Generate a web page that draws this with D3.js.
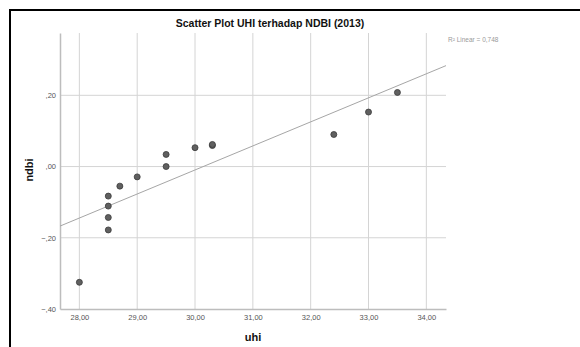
<!DOCTYPE html>
<html>
<head>
<meta charset="utf-8">
<script src="https://cdn.jsdelivr.net/npm/d3@7"></script>
<style>
  body { margin: 0; background: #fff; }
  svg { display: block; font-family: "Liberation Sans", Arial, sans-serif; }
</style>
</head>
<body>
<div id="chart"></div>
<script>
// uhi (x) and ndbi (y) values
const uhi  = [28.00, 28.50, 28.50, 28.50, 28.50, 28.70, 29.00, 29.50, 29.50, 30.00, 30.30, 30.30, 32.40, 33.00, 33.50];
const ndbi = [-0.325, -0.083, -0.111, -0.143, -0.178, -0.055, -0.029, 0.034, 0.000, 0.053, 0.059, 0.062, 0.090, 0.153, 0.208];

const xTicks = [28, 29, 30, 31, 32, 33, 34];
const yTicks = [-0.4, -0.2, 0, 0.2];
const title = "Scatter Plot UHI terhadap NDBI (2013)";
const r2Label = "R\u00B2 Linear = 0,748";

const W = 580, H = 347;
const plot = { left: 60, right: 446, top: 33, bottom: 309 };

const svg = d3.select("#chart").append("svg")
    .attr("width", W)
    .attr("height", H);

// outer frame (runs off the right and bottom edge)
svg.append("rect")
    .attr("x", 10).attr("y", 10)
    .attr("width", W + 20).attr("height", H + 20)
    .attr("fill", "none")
    .attr("stroke", "#000")
    .attr("stroke-width", 2);

const x = d3.scaleLinear()
    .domain([27.665, 34.34])
    .range([plot.left, plot.right]);

const y = d3.scaleLinear()
    .domain([-0.4, 0.375])
    .range([plot.bottom, plot.top]);

const fmtX = d => d3.format(".2f")(d).replace(".", ",");
const fmtY = d => d3.format(".2f")(d).replace("0.", ".").replace(".", ",");

// gridlines
svg.append("g")
    .selectAll("line")
    .data(xTicks)
    .join("line")
    .attr("x1", d => x(d)).attr("x2", d => x(d))
    .attr("y1", plot.top).attr("y2", plot.bottom)
    .attr("stroke", "#d4d4d4")
    .attr("stroke-width", 1);

svg.append("g")
    .selectAll("line")
    .data(yTicks.filter(d => d > -0.4))
    .join("line")
    .attr("x1", plot.left).attr("x2", plot.right)
    .attr("y1", d => y(d)).attr("y2", d => y(d))
    .attr("stroke", "#d4d4d4")
    .attr("stroke-width", 1);

// axes
const xAxis = svg.append("g")
    .attr("transform", `translate(0,${plot.bottom})`)
    .call(d3.axisBottom(x).tickValues(xTicks).tickFormat(fmtX).tickSize(0).tickPadding(6));
const yAxis = svg.append("g")
    .attr("transform", `translate(${plot.left},0)`)
    .call(d3.axisLeft(y).tickValues(yTicks).tickFormat(fmtY).tickSize(0).tickPadding(4));

[xAxis, yAxis].forEach(a => {
    a.select(".domain").attr("stroke", "#bdbdbd").attr("stroke-width", 1.5);
    a.selectAll("text")
        .attr("fill", "#555")
        .style("font-size", "7.5px")
        .style("font-family", "'Liberation Sans', Arial, sans-serif");
});

// regression line computed from the points
const mx = d3.mean(uhi), my = d3.mean(ndbi);
const sxy = d3.sum(uhi, (v, i) => (v - mx) * (ndbi[i] - my));
const sxx = d3.sum(uhi, v => (v - mx) * (v - mx));
const slope = sxy / sxx, icpt = my - slope * mx;
const [x0, x1] = x.domain();

svg.append("line")
    .attr("x1", x(x0)).attr("y1", y(icpt + slope * x0))
    .attr("x2", x(x1)).attr("y2", y(icpt + slope * x1))
    .attr("stroke", "#a6a6a6")
    .attr("stroke-width", 1);

// points
svg.append("g")
    .selectAll("circle")
    .data(uhi.map((v, i) => ({ x: v, y: ndbi[i] })))
    .join("circle")
    .attr("cx", d => x(d.x))
    .attr("cy", d => y(d.y))
    .attr("r", 3)
    .attr("fill", "#606060")
    .attr("stroke", "#3a3a3a")
    .attr("stroke-width", 0.8);

// texts
svg.append("text")
    .attr("x", 270).attr("y", 27)
    .attr("text-anchor", "middle")
    .style("font-size", "10.5px")
    .style("font-weight", "bold")
    .attr("fill", "#111")
    .text(title);

svg.append("text")
    .attr("x", 448).attr("y", 42)
    .style("font-size", "6.5px")
    .attr("fill", "#9a9a9a")
    .text(r2Label);

svg.append("text")
    .attr("x", 253).attr("y", 341)
    .attr("text-anchor", "middle")
    .style("font-size", "11px")
    .style("font-weight", "bold")
    .attr("fill", "#111")
    .text("uhi");

svg.append("text")
    .attr("transform", "translate(33,170) rotate(-90)")
    .attr("text-anchor", "middle")
    .style("font-size", "11px")
    .style("font-weight", "bold")
    .attr("fill", "#111")
    .text("ndbi");
</script>
</body>
</html>
